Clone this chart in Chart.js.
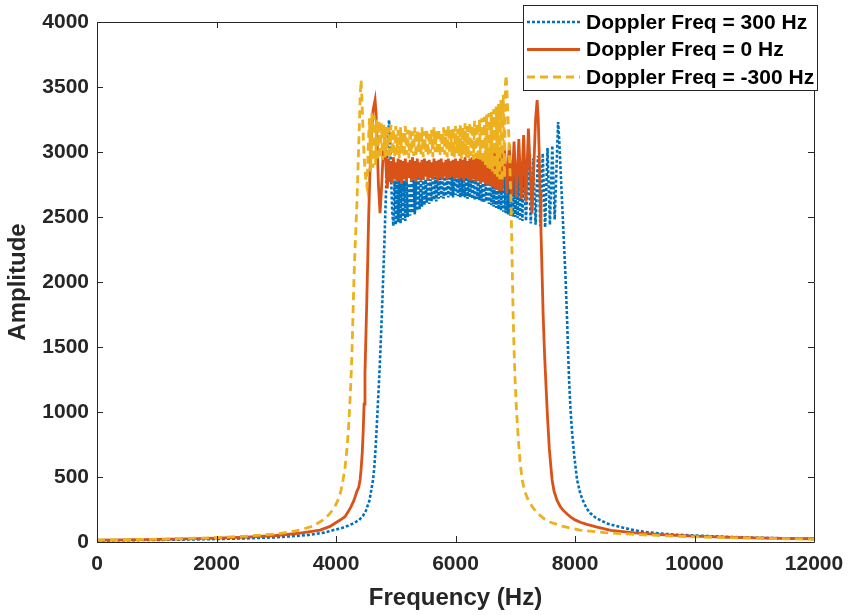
<!DOCTYPE html>
<html>
<head>
<meta charset="utf-8">
<script src="https://cdn.jsdelivr.net/npm/chart.js@4"></script>
<style>
  body { margin: 0; background: #fff; }
</style>
</head>
<body>
<canvas id="spectrum" width="848" height="615"></canvas>
<script>
// Legend labels
const seriesLabels = ["Doppler Freq = 300 Hz", "Doppler Freq = 0 Hz", "Doppler Freq = -300 Hz"];

// Doppler +300 Hz (blue, dotted)
const blueFreq = [
  0, 500, 1000, 1500, 2000, 2500, 3000, 3500, 3800, 3960,
  4100, 4200, 4300, 4386, 4450, 4500, 4560, 4620, 4640, 4660,
  4680, 4704, 4730, 4750, 4770, 4788, 4810, 4830, 4860, 4888,
  4905, 4920, 4940, 4960,
  4980, 5000, 5020, 5040, 5060, 5080, 5100, 5120, 5140, 5160, 5180, 5200,
  5220, 5240, 5260, 5280, 5300, 5320, 5340, 5360, 5380, 5400, 5420, 5440,
  5460, 5480, 5500, 5520, 5540, 5560, 5580, 5600, 5620, 5640, 5660, 5680,
  5700, 5720, 5740, 5760, 5780, 5800, 5820, 5840, 5860, 5880, 5900, 5920,
  5940, 5960, 5980, 6000, 6020, 6040, 6060, 6080, 6100, 6120, 6140, 6160,
  6180, 6200, 6220, 6240, 6260, 6280, 6300, 6320, 6340, 6360, 6380, 6400,
  6420, 6440, 6460, 6480, 6500, 6520, 6540, 6560, 6580, 6600, 6620, 6640,
  6660, 6680, 6700, 6720, 6740, 6760, 6780, 6800, 6820, 6840, 6860, 6880,
  6900, 6920, 6940, 6960, 6980, 7000, 7020, 7040, 7060, 7080, 7100, 7120,
  7140, 7180, 7220, 7260, 7300, 7340, 7380, 7420, 7460, 7500, 7540, 7580, 7620, 7660,
  7717, 7735, 7760, 7780, 7800, 7820, 7840, 7868, 7885, 7901,
  7925, 7950, 7990, 8035, 8090, 8150, 8200, 8253, 8330, 8420,
  8550, 8755, 9000, 9200, 9425, 9700, 10000, 10500, 11000, 11500, 12000
];
const blueAmp = [
  12, 14, 16, 19, 23, 28, 36, 52, 72, 92,
  108, 125, 145, 169, 200, 240, 320, 477, 570, 700,
  870, 1092, 1330, 1550, 1780, 2015, 2300, 2600, 3000, 3246,
  3100, 2850, 2550, 2430,
  2780, 2440, 2770, 2460, 2790, 2450, 2760, 2480, 2780, 2470, 2790, 2500,
  2760, 2510, 2780, 2530, 2790, 2520, 2770, 2550, 2800, 2560, 2780, 2580,
  2800, 2590, 2790, 2610, 2810, 2600, 2790, 2620, 2800, 2630, 2810, 2620,
  2800, 2640, 2820, 2650, 2800, 2640, 2810, 2660, 2820, 2650, 2800, 2660,
  2820, 2650, 2810, 2670, 2800, 2660, 2820, 2650, 2810, 2660, 2800, 2650,
  2810, 2640, 2790, 2650, 2800, 2640, 2790, 2630, 2800, 2640, 2790, 2630,
  2790, 2620, 2800, 2610, 2790, 2620, 2810, 2600, 2790, 2590, 2810, 2580,
  2810, 2570, 2820, 2560, 2830, 2550, 2820, 2540, 2840, 2530, 2850, 2520,
  2850, 2510, 2860, 2500, 2870, 2500, 2880, 2490, 2890, 2480, 2900, 2470,
  2900, 2470, 2930, 2450, 2950, 2440, 2970, 2430, 2990, 2420, 3030, 2440, 3050, 2480,
  3231, 3100, 2850, 2650, 2450, 2250, 2050, 1708, 1450, 1246,
  1020, 850, 650, 477, 370, 300, 255, 223, 192, 169,
  140, 115, 90, 76, 65, 56, 50, 40, 33, 28, 24
];

// Doppler 0 Hz (orange, solid)
const orangeFreq = [
  0, 500, 1000, 1500, 2000, 2500, 3000, 3400, 3733, 3900,
  4068, 4150, 4200, 4250, 4300, 4350, 4380, 4403, 4420, 4440,
  4455, 4470, 4485, 4500, 4515, 4530, 4545, 4565, 4590, 4620,
  4654, 4670, 4690, 4710, 4737, 4760, 4780, 4800, 4820, 4840,
  4860, 4880, 4900, 4920, 4940, 4960, 4980, 5000, 5020, 5040, 5060, 5080,
  5100, 5120, 5140, 5160, 5180, 5200, 5220, 5240, 5260, 5280, 5300, 5320,
  5340, 5360, 5380, 5400, 5420, 5440, 5460, 5480, 5500, 5520, 5540, 5560,
  5580, 5600, 5620, 5640, 5660, 5680, 5700, 5720, 5740, 5760, 5780, 5800,
  5820, 5840, 5860, 5880, 5900, 5920, 5940, 5960, 5980, 6000, 6020, 6040,
  6060, 6080, 6100, 6120, 6140, 6160, 6180, 6200, 6220, 6240, 6260, 6280,
  6300, 6320, 6340, 6360, 6380, 6400, 6420, 6440, 6460, 6480, 6500, 6520,
  6540, 6560, 6580, 6600, 6620, 6640, 6660, 6680, 6700, 6720, 6740, 6760,
  6780, 6820, 6860, 6900, 6940, 6980, 7020, 7060, 7100, 7140, 7180, 7220,
  7282, 7320, 7340, 7366, 7385, 7400, 7415, 7430, 7450, 7466,
  7490, 7515, 7540, 7570, 7600, 7617, 7650, 7700, 7750, 7800,
  7868, 7930, 8000, 8100, 8200, 8370, 8600, 9000, 9500, 10000,
  10500, 11000, 11500, 12000
];
const orangeAmp = [
  15, 17, 20, 24, 30, 38, 50, 68, 92, 120,
  169, 195, 230, 270, 320, 390, 420, 477, 560, 690,
  850, 1060, 1300, 1570, 1850, 2150, 2470, 2800, 3100, 3320,
  3400, 3300, 3050, 2750, 2530, 2700, 2900, 3050, 3080, 2850,
  2720, 2950, 2770, 2930, 2760, 2960, 2790, 2920, 2770, 2950, 2780, 2940,
  2760, 2930, 2790, 2950, 2770, 2920, 2800, 2940, 2780, 2960, 2790, 2930,
  2770, 2950, 2800, 2920, 2780, 2940, 2790, 2950, 2810, 2930, 2780, 2940,
  2800, 2920, 2790, 2950, 2810, 2930, 2780, 2940, 2800, 2950, 2790, 2920,
  2810, 2940, 2790, 2950, 2800, 2930, 2810, 2940, 2790, 2950, 2800, 2930,
  2790, 2950, 2800, 2940, 2780, 2960, 2800, 2930, 2790, 2950, 2780, 2960,
  2790, 2950, 2770, 2960, 2780, 2970, 2760, 2960, 2770, 2980, 2750, 2990,
  2750, 3000, 2740, 2990, 2730, 3010, 2720, 3020, 2710, 3030, 2700, 3040,
  2700, 3040, 2680, 3060, 2670, 3080, 2650, 3100, 2640, 3130, 2620, 3180,
  2530, 3000, 3250, 3400, 3250, 3000, 2700, 2400, 2050, 1760,
  1450, 1200, 960, 720, 560, 477, 390, 320, 275, 245,
  215, 192, 170, 150, 135, 115, 90, 70, 55, 45,
  38, 32, 28, 25
];

// Doppler -300 Hz (yellow, dashed)
const yellowFreq = [
  0, 500, 1000, 1500, 2000, 2500, 3000, 3200, 3398, 3600,
  3783, 3870, 3950, 4000, 4050, 4085, 4118, 4150, 4180, 4210,
  4235, 4255, 4270, 4285, 4300, 4325, 4352, 4370, 4390, 4405,
  4419, 4435, 4450, 4465, 4480, 4500, 4520,
  4540, 4560, 4580, 4600, 4620, 4640, 4660, 4680, 4700, 4720, 4740, 4760,
  4780, 4800, 4820, 4840, 4860, 4880, 4900, 4920, 4940, 4960, 4980, 5000,
  5020, 5040, 5060, 5080, 5100, 5120, 5140, 5160, 5180, 5200, 5220, 5240,
  5260, 5280, 5300, 5320, 5340, 5360, 5380, 5400, 5420, 5440, 5460, 5480,
  5500, 5520, 5540, 5560, 5580, 5600, 5620, 5640, 5660, 5680, 5700, 5720,
  5740, 5760, 5780, 5800, 5820, 5840, 5860, 5880, 5900, 5920, 5940, 5960,
  5980, 6000, 6020, 6040, 6060, 6080, 6100, 6120, 6140, 6160, 6180, 6200,
  6220, 6240, 6260, 6280, 6300, 6320, 6340, 6360, 6380, 6400, 6420, 6440,
  6460, 6480, 6500, 6520, 6540, 6560, 6580, 6600, 6620, 6640, 6660, 6680,
  6700, 6720, 6740, 6760, 6780, 6800, 6820,
  6835, 6847, 6860, 6875, 6890, 6910, 6930, 6947, 6964, 6980,
  6997, 7020, 7050, 7080, 7115, 7160, 7200, 7280, 7366, 7480,
  7600, 7800, 8085, 8500, 9000, 9500, 10000, 10500, 11000, 11500, 12000
];
const yellowAmp = [
  15, 18, 22, 27, 34, 45, 62, 75, 92, 120,
  169, 205, 250, 290, 340, 400, 477, 570, 700, 880,
  1092, 1300, 1500, 1760, 2015, 2330, 2630, 2900, 3200, 3420,
  3554, 3400, 3200, 3020, 2900, 2780, 2730,
  3050, 3260, 2850, 3300, 2880, 3280, 2900, 3250, 2930, 3240, 2950, 3220,
  2940, 3210, 2960, 3200, 2970, 3190, 2950, 3210, 2980, 3180, 2960, 3200,
  2980, 3170, 2950, 3190, 2990, 3160, 2960, 3200, 2980, 3170, 2950, 3180,
  2990, 3160, 2970, 3190, 2960, 3170, 3000, 3150, 2970, 3190, 2960, 3160,
  3000, 3180, 2970, 3150, 2990, 3170, 2960, 3190, 3000, 3160, 2980, 3180,
  2970, 3150, 3000, 3190, 2980, 3170, 2960, 3200, 2990, 3170, 2970, 3190,
  2960, 3200, 2990, 3180, 2970, 3210, 2950, 3190, 2980, 3220, 2960, 3200,
  2950, 3230, 2970, 3210, 2940, 3240, 2960, 3220, 2930, 3250, 2940, 3260,
  2910, 3270, 2900, 3290, 2880, 3300, 2870, 3310, 2850, 3330, 2830, 3350,
  2810, 3370, 2790, 3400, 2770, 3440, 2800,
  3520, 3592, 3480, 3300, 3150, 2880, 2607, 2180, 1761, 1480,
  1246, 1020, 800, 620, 477, 390, 340, 275, 223, 180,
  150, 120, 92, 72, 58, 48, 40, 34, 29, 25, 22
];

const toPoints = (fx, ay) => fx.map((f, i) => ({ x: f, y: ay[i] }));

const FONT = "'Liberation Sans', Arial, Helvetica, sans-serif";
const INK = "#262626";

const datasets = [
  { label: seriesLabels[0], data: toPoints(blueFreq, blueAmp), borderColor: "#0072BD",
    borderWidth: 2.6, borderDash: [3, 2], order: 3 },
  { label: seriesLabels[1], data: toPoints(orangeFreq, orangeAmp), borderColor: "#D95319",
    borderWidth: 2.8, borderDash: [], order: 2 },
  { label: seriesLabels[2], data: toPoints(yellowFreq, yellowAmp), borderColor: "#EDB120",
    borderWidth: 2.8, borderDash: [8, 5], order: 1 }
];

// axes box with inward ticks, plus the legend box in the top right
const matlabBox = {
  id: "matlabBox",
  afterDraw(chart) {
    const { ctx, chartArea: a, scales: { x, y } } = chart;
    ctx.save();
    ctx.strokeStyle = INK;
    ctx.lineWidth = 1;
    ctx.setLineDash([]);
    ctx.beginPath();
    ctx.rect(a.left + 0.5, a.top + 0.5, a.right - a.left, a.bottom - a.top);
    x.ticks.forEach(t => {
      const px = Math.round(x.getPixelForValue(t.value)) + 0.5;
      ctx.moveTo(px, a.bottom); ctx.lineTo(px, a.bottom - 6);
      ctx.moveTo(px, a.top); ctx.lineTo(px, a.top + 6);
    });
    y.ticks.forEach(t => {
      const py = Math.round(y.getPixelForValue(t.value)) + 0.5;
      ctx.moveTo(a.left, py); ctx.lineTo(a.left + 6, py);
      ctx.moveTo(a.right, py); ctx.lineTo(a.right - 6, py);
    });
    ctx.stroke();

    // legend
    const lx = 523, ly = 5, lw = 294, lh = 85;
    ctx.fillStyle = "#fff";
    ctx.fillRect(lx, ly, lw, lh);
    ctx.strokeRect(lx + 0.5, ly + 0.5, lw, lh);
    ctx.font = "bold 21px " + FONT;
    ctx.textBaseline = "middle";
    datasets.forEach((ds, i) => {
      const ry = 22 + i * 27.5;
      ctx.strokeStyle = ds.borderColor;
      ctx.lineWidth = ds.borderWidth;
      ctx.setLineDash(ds.borderDash);
      ctx.beginPath();
      ctx.moveTo(527, ry); ctx.lineTo(580, ry);
      ctx.stroke();
      ctx.setLineDash([]);
      ctx.fillStyle = "#000";
      ctx.fillText(seriesLabels[i], 586, ry + 1);
    });
    ctx.restore();
  }
};

const tickFont = { family: FONT, size: 21, weight: "bold" };
const titleFont = { family: FONT, size: 24, weight: "bold" };

new Chart(document.getElementById("spectrum"), {
  type: "line",
  data: { datasets },
  options: {
    responsive: false,
    animation: false,
    layout: { padding: { top: 22, right: 34, left: 0, bottom: 0 } },
    plugins: { legend: { display: false }, tooltip: { enabled: false } },
    elements: { point: { radius: 0 }, line: { tension: 0, fill: false } },
    scales: {
      x: {
        type: "linear", min: 0, max: 12000,
        ticks: { stepSize: 2000, padding: 10, color: INK, font: tickFont, maxRotation: 0,
                 callback: v => String(v) },
        grid: { display: false, drawTicks: false },
        border: { display: false },
        title: { display: true, text: "Frequency (Hz)", color: INK, font: titleFont,
                 padding: { top: 0, bottom: 2 } },
        afterFit: s => { s.height = 73; s.paddingLeft = 0; s.paddingRight = 0; }
      },
      y: {
        type: "linear", min: 0, max: 4000,
        ticks: { stepSize: 500, padding: 8, color: INK, font: tickFont,
                 callback: v => String(v) },
        grid: { display: false, drawTicks: false },
        border: { display: false },
        title: { display: true, text: "Amplitude", color: INK, font: titleFont,
                 padding: { top: 4, bottom: 0 } },
        afterFit: s => { s.width = 97; s.paddingTop = 0; s.paddingBottom = 0; }
      }
    }
  },
  plugins: [matlabBox]
});
</script>
</body>
</html>
